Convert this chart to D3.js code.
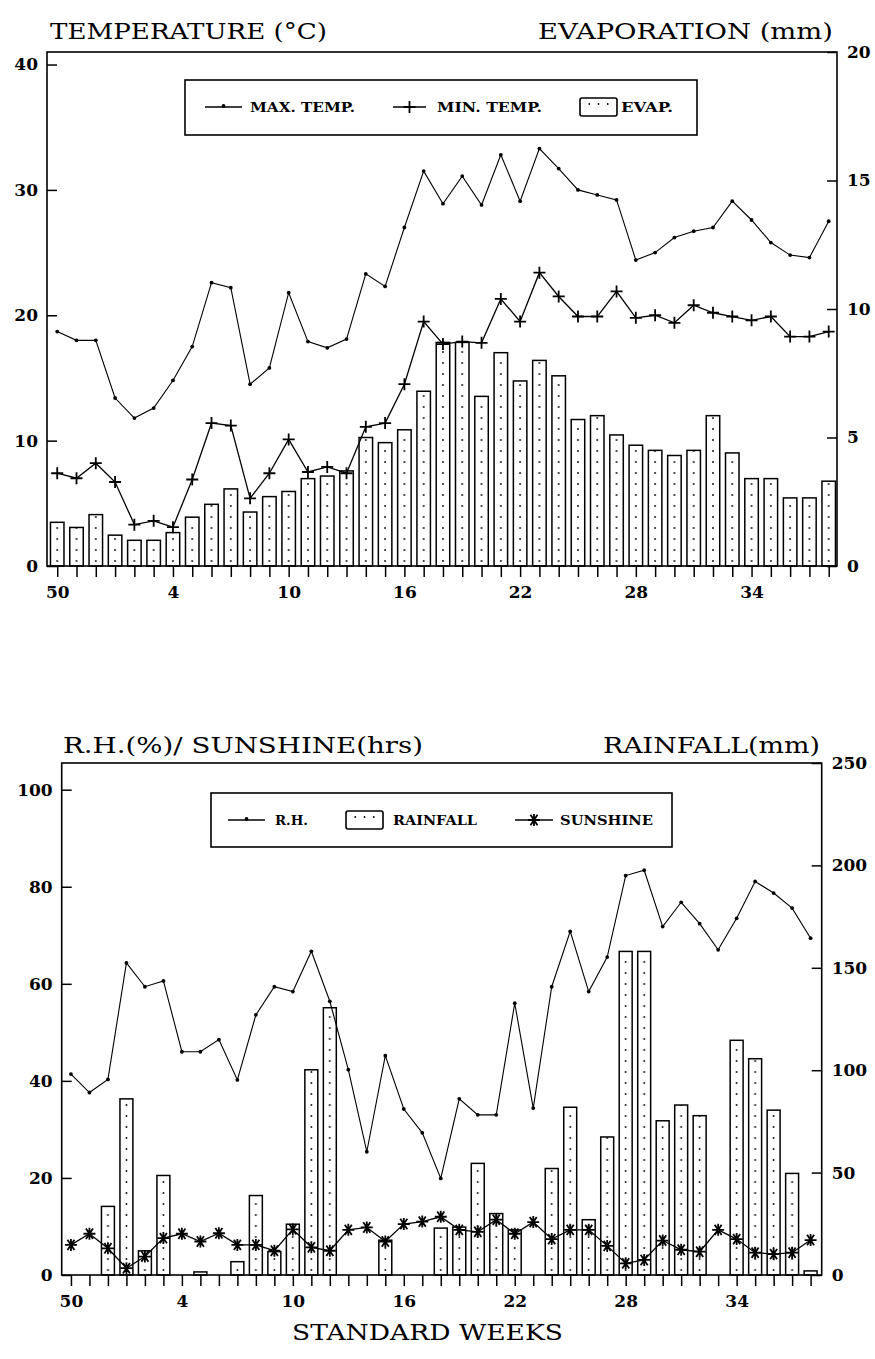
<!DOCTYPE html>
<html>
<head>
<meta charset="utf-8">
<script src="https://cdn.jsdelivr.net/npm/d3@7"></script>
<style>
  body { margin: 0; background: #fff; }
  text { font-family: "DejaVu Serif", "Liberation Serif", serif; fill: #000; }
  .tick text { font-weight: bold; font-size: 17px; }
  .title { font-size: 22px; }
  .legend text { font-weight: bold; font-size: 12px; }
</style>
</head>
<body>
<script>
// standard weeks (Dec -> Sep)
var weeks = ["50","51","52","1","2","3","4","5","6","7","8","9","10","11","12","13","14",
             "15","16","17","18","19","20","21","22","23","24","25","26","27","28","29","30",
             "31","32","33","34","35","36","37","38"];
var weekLabels = ["50","4","10","16","22","28","34"];

// top panel
var maxTemp = [18.7,18.0,18.0,13.4,11.8,12.6,14.8,17.5,22.6,22.2,14.5,15.8,21.8,17.9,17.4,18.1,
               23.3,22.3,27.0,31.5,28.9,31.1,28.8,32.8,29.1,33.3,31.7,30.0,29.6,29.2,24.4,25.0,
               26.2,26.7,27.0,29.1,27.6,25.8,24.8,24.6,27.5];
var minTemp = [7.4,7.0,8.2,6.7,3.3,3.6,3.1,6.9,11.4,11.2,5.4,7.4,10.1,7.5,7.9,7.4,
               11.1,11.4,14.5,19.5,17.7,17.9,17.8,21.3,19.5,23.4,21.5,19.9,19.9,21.9,19.8,20.0,
               19.4,20.8,20.2,19.9,19.6,19.9,18.3,18.3,18.7];
var evap = [1.7,1.5,2.0,1.2,1.0,1.0,1.3,1.9,2.4,3.0,2.1,2.7,2.9,3.4,3.5,3.7,
            5.0,4.8,5.3,6.8,8.7,8.7,6.6,8.3,7.2,8.0,7.4,5.7,5.85,5.1,4.7,4.5,
            4.3,4.5,5.85,4.4,3.4,3.4,2.65,2.65,3.3];

// bottom panel
var rh = [41.4,37.6,40.3,64.3,59.4,60.6,46.0,46.0,48.5,40.2,53.6,59.4,58.4,66.7,56.4,42.3,
          25.4,45.2,34.2,29.3,19.9,36.3,33.0,33.0,56.0,34.4,59.4,70.8,58.4,65.5,82.3,83.4,
          71.8,76.8,72.4,67.0,73.5,81.1,78.7,75.6,69.4];
var rainfall = [0,0,33.5,86,11.8,48.6,0,1.5,0,6.5,38.8,11.4,24.8,100.2,130.5,0,
                0,17,0,0,22.9,23.4,54.5,30,22,0,52,81.9,27,67.4,158,158,
                75.3,83,77.8,0,114.6,105.6,80.5,49.6,2];
var sunshine = [6.2,8.5,5.5,1.4,3.8,7.6,8.5,6.9,8.6,6.2,6.2,5.0,9.4,5.7,5.0,9.3,
                9.8,6.9,10.5,11.0,12.0,9.3,8.9,11.4,8.5,10.9,7.4,9.3,9.3,6.0,2.4,3.1,
                7.1,5.2,4.8,9.3,7.4,4.6,4.3,4.6,7.2];

var svg = d3.select("body").append("svg")
  .attr("width", 875)
  .attr("height", 1359);

var defs = svg.append("defs");

var plus = "M-6,0H6M0,-6V6";
var star = "M-6,0H6M-3.5,-5.2L3.5,5.2M-3.5,5.2L3.5,-5.2M0,-6V6";

function drawPanel(p) {
  var x = d3.scaleLinear().domain(p.xDomain).range([p.left, p.right]);
  var yL = d3.scaleLinear().domain([0, p.leftMax]).range([p.bottom, p.top]);
  var yR = d3.scaleLinear().domain([0, p.rightMax]).range([p.bottom, p.top]);
  var step = x(1) - x(0);
  var bw = step * 0.7;

  // dotted fill, one dot column centered in every bar
  var pat = defs.append("pattern")
    .attr("id", p.id + "_dots")
    .attr("patternUnits", "userSpaceOnUse")
    .attr("x", x(0) - step / 2)
    .attr("y", p.bottom)
    .attr("width", step)
    .attr("height", 11);
  pat.append("rect").attr("width", step).attr("height", 11).attr("fill", "#fff");
  pat.append("circle").attr("cx", step / 2).attr("cy", 6).attr("r", 0.9).attr("fill", "#000");

  var g = svg.append("g");

  // bars
  g.append("g").selectAll("rect")
    .data(p.bars.map(function(v, i) { return {i: i, v: v}; }).filter(function(d) { return d.v > 0; }))
    .enter().append("rect")
    .attr("x", d => x(d.i) - bw / 2)
    .attr("y", d => yR(d.v))
    .attr("width", bw)
    .attr("height", d => p.bottom - yR(d.v))
    .attr("fill", "url(#" + p.id + "_dots)")
    .attr("stroke", "#000")
    .attr("stroke-width", 1.5);

  // lines + markers
  p.lines.forEach(function(s) {
    var line = d3.line().x((d, i) => x(i)).y(d => yL(d));
    g.append("path")
      .datum(s.values)
      .attr("d", line)
      .attr("fill", "none")
      .attr("stroke", "#000")
      .attr("stroke-width", s.width);
    var m = g.append("g").selectAll("g")
      .data(s.values)
      .enter().append("g")
      .attr("transform", (d, i) => "translate(" + x(i) + "," + yL(d) + ")");
    if (s.marker == "dot") {
      m.append("circle").attr("r", 1.9).attr("fill", "#000");
    } else {
      m.append("path").attr("d", s.marker == "plus" ? plus : star)
        .attr("stroke", "#000").attr("stroke-width", 1.8).attr("fill", "none");
    }
  });

  // frame
  g.append("rect")
    .attr("x", p.left).attr("y", p.top)
    .attr("width", p.right - p.left).attr("height", p.bottom - p.top)
    .attr("fill", "none").attr("stroke", "#000").attr("stroke-width", 1.6);

  // axes
  g.append("g")
    .attr("transform", "translate(0," + p.bottom + ")")
    .call(d3.axisBottom(x)
      .tickValues(d3.range(weeks.length))
      .tickSize(11)
      .tickPadding(9)
      .tickFormat(i => weekLabels.indexOf(weeks[i]) >= 0 ? weeks[i] : ""))
    .call(a => a.select(".domain").remove())
    .call(a => a.selectAll(".tick line").attr("stroke-width", 1.5));

  g.append("g")
    .attr("transform", "translate(" + p.left + ",0)")
    .call(d3.axisLeft(yL).tickValues(p.leftTicks).tickSize(-10).tickPadding(9))
    .call(a => a.select(".domain").remove())
    .call(a => a.selectAll(".tick line").attr("stroke-width", 1.5));

  g.append("g")
    .attr("transform", "translate(" + p.right + ",0)")
    .call(d3.axisRight(yR).tickValues(p.rightTicks).tickSize(-10).tickPadding(10))
    .call(a => a.select(".domain").remove())
    .call(a => a.selectAll(".tick line").attr("stroke-width", 1.5));

  // titles
  p.titles.forEach(function(t) {
    svg.append("text").attr("class", "title")
      .attr("x", t.x).attr("y", t.y)
      .attr("textLength", t.len).attr("lengthAdjust", "spacingAndGlyphs")
      .text(t.text);
  });

  // legend
  var lg = svg.append("g").attr("class", "legend");
  var b = p.legend;
  lg.append("rect")
    .attr("x", b.x0).attr("y", b.y0)
    .attr("width", b.x1 - b.x0).attr("height", b.y1 - b.y0)
    .attr("fill", "#fff").attr("stroke", "#000").attr("stroke-width", 1.6);
  b.items.forEach(function(it) {
    if (it.kind == "bar") {
      lg.append("rect")
        .attr("x", it.sx0).attr("y", b.cy - 9)
        .attr("width", it.sx1 - it.sx0).attr("height", 18)
        .attr("rx", 2)
        .attr("fill", "#fff").attr("stroke", "#000").attr("stroke-width", 1.6);
      [0.25, 0.5, 0.75].forEach(function(f) {
        lg.append("circle")
          .attr("cx", it.sx0 + f * (it.sx1 - it.sx0)).attr("cy", b.cy - 3)
          .attr("r", 0.9).attr("fill", "#000");
      });
    } else {
      lg.append("line")
        .attr("x1", it.sx0).attr("x2", it.sx1)
        .attr("y1", b.cy).attr("y2", b.cy)
        .attr("stroke", "#000").attr("stroke-width", 1.6);
      var cx = (it.sx0 + it.sx1) / 2;
      if (it.kind == "dot") {
        lg.append("circle").attr("cx", cx).attr("cy", b.cy - 1).attr("r", 1.9).attr("fill", "#000");
      } else {
        lg.append("path")
          .attr("transform", "translate(" + cx + "," + b.cy + ")")
          .attr("d", it.kind == "plus" ? plus : star)
          .attr("stroke", "#000").attr("stroke-width", 1.8).attr("fill", "none");
      }
    }
    lg.append("text")
      .attr("x", it.tx).attr("y", b.cy + 4.5)
      .attr("textLength", it.tlen).attr("lengthAdjust", "spacingAndGlyphs")
      .text(it.label);
  });
}

drawPanel({
  id: "top",
  left: 47, right: 837, top: 52, bottom: 566,
  xDomain: [-0.53, 40.43],
  leftMax: 41, rightMax: 20,
  leftTicks: [0, 10, 20, 30, 40],
  rightTicks: [0, 5, 10, 15, 20],
  bars: evap,
  lines: [
    {values: maxTemp, marker: "dot", width: 1.1},
    {values: minTemp, marker: "plus", width: 1.3}
  ],
  titles: [
    {text: "TEMPERATURE (°C)", x: 50, y: 39, len: 277},
    {text: "EVAPORATION (mm)", x: 538, y: 39, len: 295}
  ],
  legend: {
    x0: 185, x1: 697, y0: 80, y1: 135, cy: 107,
    items: [
      {kind: "dot", sx0: 205, sx1: 242, tx: 250, tlen: 105, label: "MAX. TEMP."},
      {kind: "plus", sx0: 393, sx1: 426, tx: 437, tlen: 105, label: "MIN. TEMP."},
      {kind: "bar", sx0: 580, sx1: 617, tx: 621, tlen: 52, label: "EVAP."}
    ]
  }
});

drawPanel({
  id: "bot",
  left: 61.7, right: 821.7, top: 763, bottom: 1275,
  xDomain: [-0.5, 40.6],
  leftMax: 105.5, rightMax: 250,
  leftTicks: [0, 20, 40, 60, 80, 100],
  rightTicks: [0, 50, 100, 150, 200, 250],
  bars: rainfall,
  lines: [
    {values: rh, marker: "dot", width: 1.1},
    {values: sunshine, marker: "star", width: 1.3}
  ],
  titles: [
    {text: "R.H.(%)/ SUNSHINE(hrs)", x: 63, y: 753, len: 360},
    {text: "RAINFALL(mm)", x: 603, y: 753, len: 217},
    {text: "STANDARD WEEKS", x: 292, y: 1340, len: 271}
  ],
  legend: {
    x0: 211, x1: 672, y0: 793, y1: 847, cy: 820,
    items: [
      {kind: "dot", sx0: 228, sx1: 265, tx: 275, tlen: 33, label: "R.H."},
      {kind: "bar", sx0: 346, sx1: 383, tx: 393, tlen: 84, label: "RAINFALL"},
      {kind: "star", sx0: 515, sx1: 553, tx: 560, tlen: 93, label: "SUNSHINE"}
    ]
  }
});
</script>
</body>
</html>
